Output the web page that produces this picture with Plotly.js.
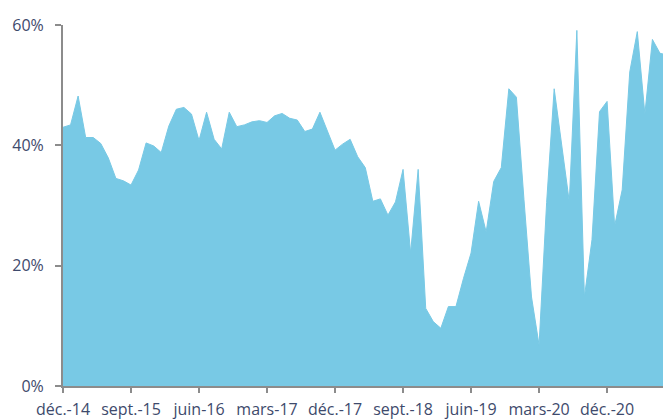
<!DOCTYPE html>
<html>
<head>
<meta charset="utf-8">
<script src="https://cdn.plot.ly/plotly-3.0.1.min.js"></script>
<style>html,body{margin:0;padding:0;background:#fff;}#chart{width:663px;height:419px;}</style>
</head>
<body>
<div id="chart"></div>
<script>
// Monthly share (%) from déc.-14 onward
var values = [
  43.0, 43.4, 48.2, 41.3, 41.3, 40.3, 37.9, 34.5, 34.1, 33.4,
  35.9, 40.4, 39.9, 38.8, 43.2, 46.0, 46.3, 45.2, 40.8, 45.5,
  41.0, 39.4, 45.5, 43.1, 43.4, 43.9, 44.1, 43.8, 44.9, 45.3,
  44.5, 44.2, 42.3, 42.7, 45.5, 42.3, 39.2, 40.2, 41.0, 38.1,
  36.3, 30.7, 31.1, 28.4, 30.6, 36.0, 22.1, 36.0, 12.9, 10.7,
  9.6, 13.2, 13.2, 17.9, 22.1, 30.7, 25.6, 34.0, 36.3, 49.4,
  48.0, 31.0, 14.8, 6.8, 30.5, 49.4, 39.8, 30.6, 59.1, 14.8,
  24.3, 45.6, 47.3, 26.6, 32.6, 52.2, 58.9, 45.2, 57.6, 55.3,
  55.0
];
var tickLabels = ["déc.-14","sept.-15","juin-16","mars-17","déc.-17","sept.-18","juin-19","mars-20","déc.-20"];
var tickIndex = [0, 9, 18, 27, 36, 45, 54, 63, 72];
var yTicks = [0, 20, 40, 60];

var x = values.map(function(v, i){ return i; });

var trace = {
  x: x, y: values, type: 'scatter', mode: 'lines',
  fill: 'tozeroy', fillcolor: 'rgb(120,201,229)',
  line: {color: 'rgb(120,201,229)', width: 1},
  hoverinfo: 'skip'
};
var fontColor = '#3e4a6c';
var layout = {
  width: 663, height: 419,
  margin: {l: 63, r: 0, t: 25, b: 33},
  paper_bgcolor: '#fff', plot_bgcolor: '#fff',
  showlegend: false,
  font: {family: 'Open Sans, sans-serif', size: 16, color: fontColor},
  xaxis: {
    range: [0, 79.4], showgrid: false, zeroline: false,
    showline: true, linecolor: '#8c8c8c', linewidth: 2,
    ticks: 'outside', ticklen: 5, tickwidth: 2, tickcolor: '#8c8c8c',
    tickvals: tickIndex, ticktext: tickLabels, ticklabelstandoff: 3,
    tickfont: {family: 'Open Sans, sans-serif', size: 16, color: fontColor}
  },
  yaxis: {
    range: [0, 60], showgrid: false, zeroline: false,
    showline: true, linecolor: '#8c8c8c', linewidth: 2,
    ticks: 'outside', ticklen: 6, tickwidth: 2, tickcolor: '#8c8c8c',
    tickvals: yTicks, ticktext: yTicks.map(function(v){ return v + '%'; }),
    ticklabelstandoff: 8,
    tickfont: {family: 'Open Sans, sans-serif', size: 16, color: fontColor}
  }
};
Plotly.newPlot('chart', [trace], layout, {displayModeBar: false, staticPlot: true});
</script>
</body>
</html>
